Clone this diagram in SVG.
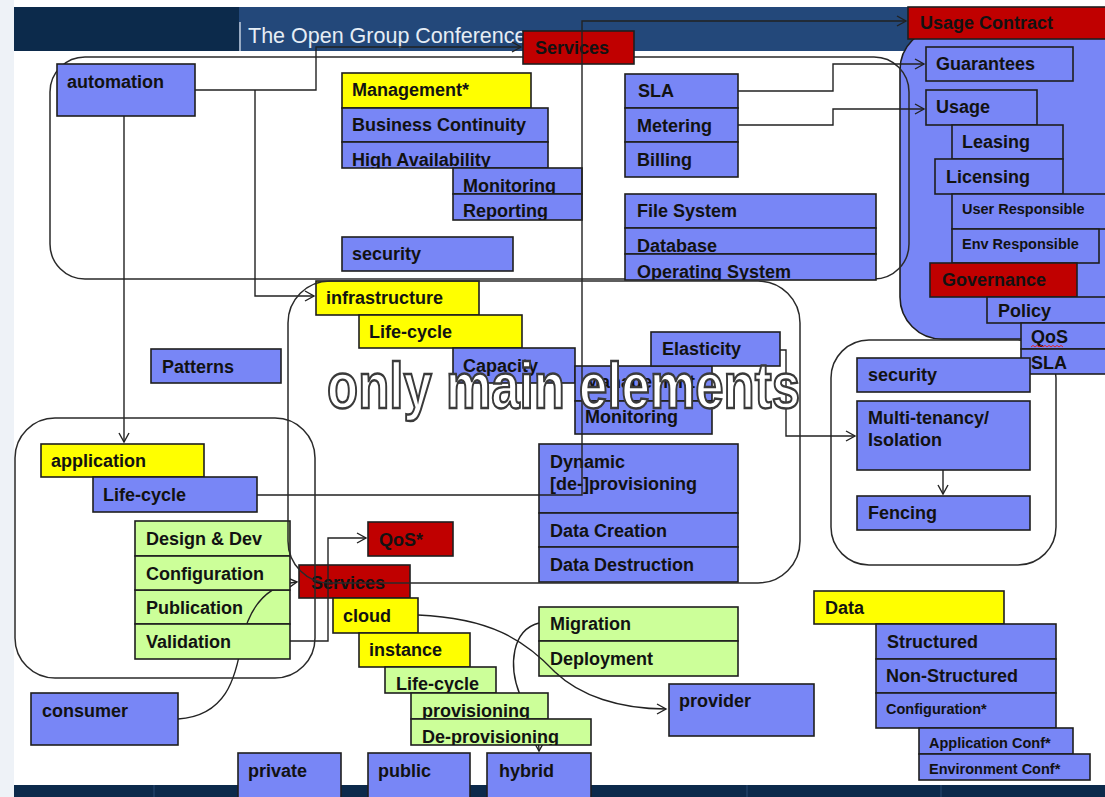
<svg xmlns="http://www.w3.org/2000/svg" width="1105" height="797" viewBox="0 0 1105 797">
  <defs>
    <style>
      .b { fill: #7886f6; stroke: #1e1e1e; stroke-width: 1.6; }
      .y { fill: #ffff00; stroke: #1e1e1e; stroke-width: 1.6; }
      .r { fill: #c00000; stroke: #1e1e1e; stroke-width: 1.6; }
      .g { fill: #ccff99; stroke: #1e1e1e; stroke-width: 1.6; }
      .t { font-family: "Liberation Sans", Arial, sans-serif; font-weight: bold; font-size: 18px; fill: #121212; }
      .s { font-family: "Liberation Sans", Arial, sans-serif; font-weight: bold; font-size: 14.5px; fill: #121212; }
      .box { fill: none; stroke: #2a2a2a; stroke-width: 1.5; }
      .c { fill: none; stroke: #222; stroke-width: 1.4; }
      .overlay { font-family: "Liberation Sans Narrow", "Liberation Sans", Arial, sans-serif; font-weight: bold; font-size: 64px; fill: #ffffff; stroke: #3a3a3a; stroke-width: 2.4; }
    </style>
    <marker id="arr" markerUnits="userSpaceOnUse" markerWidth="12" markerHeight="12" refX="10" refY="6" orient="auto">
      <path d="M1,1 L10,6 L1,11" fill="none" stroke="#222" stroke-width="1.4"/>
    </marker>
    <clipPath id="clip-ha"><rect x="342" y="142" width="206" height="26"/></clipPath>
    <clipPath id="clip-mon"><rect x="453" y="168" width="129" height="26"/></clipPath>
    <clipPath id="clip-rep"><rect x="453" y="194" width="129" height="26"/></clipPath>
    <clipPath id="clip-os"><rect x="625" y="254" width="251" height="26"/></clipPath>
    <clipPath id="clip-lc2"><rect x="385" y="667" width="111" height="26"/></clipPath>
    <clipPath id="clip-prov"><rect x="411" y="693" width="137" height="26"/></clipPath>
    <clipPath id="clip-deprov"><rect x="411" y="719" width="180" height="26"/></clipPath>
  </defs>

  <!-- page background, header and footer bands -->
  <rect x="0" y="0" width="1105" height="797" fill="#ffffff"/>
  <rect x="0" y="0" width="14" height="797" fill="#eef2f7"/>
  <rect x="14" y="7" width="1091" height="44" fill="#23487a"/>
  <rect x="14" y="7" width="225" height="44" fill="#0c2a4b"/>
  <line x1="240" y1="22" x2="240" y2="51" stroke="#e8eef5" stroke-width="1.2"/>
  <text x="248" y="43" font-family="Liberation Sans, Arial, sans-serif" font-size="21.5" fill="#e6edf5">The Open Group Conference</text>
  <rect x="14" y="785" width="1091" height="12" fill="#0c2a4b"/>
  <line x1="154" y1="785" x2="154" y2="797" stroke="#1f4066" stroke-width="1.5"/>
  <line x1="747" y1="785" x2="747" y2="797" stroke="#1f4066" stroke-width="1.5"/>
  <line x1="941" y1="785" x2="941" y2="797" stroke="#1f4066" stroke-width="1.5"/>

  <!-- usage contract backdrop and the grouping frames drawn beneath the boxes -->
  <rect id="usage-frame" x="900" y="28" width="240" height="311" rx="42" class="b"/>
  <rect id="automation-frame" x="50" y="57" width="859" height="222" rx="35" class="box"/>
  <rect id="security-frame" x="831" y="340" width="225" height="225" rx="38" class="box"/>

  <!-- management / services area -->
  <g id="automation"><rect x="57" y="64" width="138" height="52" class="b"/><text x="67" y="88" class="t">automation</text></g>
  <g id="services-top"><rect x="523" y="31" width="111" height="33" class="r"/><text x="535" y="54" class="t">Services</text></g>
  <g id="management"><rect x="342" y="73" width="189" height="35" class="y"/><text x="352" y="96" class="t">Management*</text></g>
  <g id="business-continuity"><rect x="342" y="108" width="206" height="34" class="b"/><text x="352" y="131" class="t">Business Continuity</text></g>
  <g id="high-availability"><rect x="342" y="142" width="206" height="26" class="b"/><text x="352" y="166" class="t" clip-path="url(#clip-ha)">High Availability</text></g>
  <g id="monitoring-top"><rect x="453" y="168" width="129" height="26" class="b"/><text x="463" y="192" class="t" clip-path="url(#clip-mon)">Monitoring</text></g>
  <g id="reporting"><rect x="453" y="194" width="129" height="26" class="b"/><text x="463" y="217" class="t" clip-path="url(#clip-rep)">Reporting</text></g>
  <g id="security-top"><rect x="342" y="237" width="171" height="34" class="b"/><text x="352" y="260" class="t">security</text></g>
  <g id="sla-top"><rect x="625" y="74" width="113" height="34" class="b"/><text x="638" y="97" class="t">SLA</text></g>
  <g id="metering"><rect x="625" y="108" width="113" height="34" class="b"/><text x="637" y="132" class="t">Metering</text></g>
  <g id="billing"><rect x="625" y="142" width="113" height="35" class="b"/><text x="637" y="166" class="t">Billing</text></g>
  <g id="file-system"><rect x="625" y="194" width="251" height="34" class="b"/><text x="637" y="217" class="t">File System</text></g>
  <g id="database"><rect x="625" y="228" width="251" height="26" class="b"/><text x="637" y="252" class="t">Database</text></g>
  <g id="operating-system"><rect x="625" y="254" width="251" height="26" class="b"/><text x="637" y="278" class="t" clip-path="url(#clip-os)">Operating System</text></g>

  <!-- usage contract -->
  <g id="usage-contract"><rect x="908" y="7" width="200" height="32" class="r"/><text x="920" y="29" class="t">Usage Contract</text></g>
  <g id="guarantees"><rect x="926" y="47" width="147" height="34" class="b"/><text x="936" y="70" class="t">Guarantees</text></g>
  <g id="usage"><rect x="926" y="90" width="111" height="35" class="b"/><text x="936" y="113" class="t">Usage</text></g>
  <g id="leasing"><rect x="952" y="125" width="111" height="34" class="b"/><text x="962" y="148" class="t">Leasing</text></g>
  <g id="licensing"><rect x="935" y="159" width="128" height="35" class="b"/><text x="946" y="183" class="t">Licensing</text></g>
  <g id="user-responsible"><rect x="952" y="194" width="160" height="35" class="b"/><text x="962" y="214" class="s">User Responsible</text></g>
  <g id="env-responsible"><rect x="952" y="229" width="147" height="34" class="b"/><text x="962" y="249" class="s">Env Responsible</text></g>
  <g id="governance"><rect x="930" y="263" width="147" height="34" class="r"/><text x="942" y="286" class="t">Governance</text></g>
  <g id="policy"><rect x="987" y="297" width="125" height="26" class="b"/><text x="998" y="317" class="t">Policy</text></g>
  <g id="qos-gov"><rect x="1021" y="323" width="90" height="26" class="b"/><text x="1031" y="343" class="t">QoS</text>
    <path d="M1031 347 l2 -1.6 l2 1.6 l2 -1.6 l2 1.6 l2 -1.6 l2 1.6 l2 -1.6 l2 1.6 l2 -1.6 l2 1.6 l2 -1.6 l2 1.6 l2 -1.6 l2 1.6 l2 -1.6 l2 1.6" fill="none" stroke="#e02424" stroke-width="1"/></g>
  <g id="sla-gov"><rect x="1021" y="349" width="90" height="25" class="b"/><text x="1031" y="369" class="t">SLA</text></g>

  <!-- infrastructure -->
  <g id="patterns"><rect x="151" y="349" width="130" height="34" class="b"/><text x="162" y="373" class="t">Patterns</text></g>
  <g id="infrastructure"><rect x="316" y="281" width="163" height="34" class="y"/><text x="326" y="304" class="t">infrastructure</text></g>
  <g id="infra-life-cycle"><rect x="359" y="315" width="163" height="33" class="y"/><text x="369" y="338" class="t">Life-cycle</text></g>
  <g id="capacity"><rect x="453" y="348" width="122" height="35" class="b"/><text x="463" y="372" class="t">Capacity</text></g>
  <g id="infra-management"><rect x="575" y="366" width="137" height="35" class="b"/><text x="585" y="388" class="t">Management</text></g>
  <g id="infra-monitoring"><rect x="575" y="401" width="137" height="33" class="b"/><text x="585" y="423" class="t">Monitoring</text></g>
  <g id="elasticity"><rect x="651" y="332" width="129" height="34" class="b"/><text x="662" y="355" class="t">Elasticity</text></g>
  <g id="dynamic-provisioning"><rect x="539" y="444" width="199" height="69" class="b"/><text x="550" y="468" class="t">Dynamic</text><text x="550" y="490" class="t">[de-]provisioning</text></g>
  <g id="data-creation"><rect x="539" y="513" width="199" height="34" class="b"/><text x="550" y="537" class="t">Data Creation</text></g>
  <g id="data-destruction"><rect x="539" y="547" width="199" height="35" class="b"/><text x="550" y="571" class="t">Data Destruction</text></g>

  <!-- security -->
  <g id="security-right"><rect x="857" y="358" width="173" height="34" class="b"/><text x="868" y="381" class="t">security</text></g>
  <g id="multi-tenancy"><rect x="857" y="401" width="173" height="69" class="b"/><text x="868" y="424" class="t">Multi-tenancy/</text><text x="868" y="446" class="t">Isolation</text></g>
  <g id="fencing"><rect x="857" y="496" width="173" height="34" class="b"/><text x="868" y="519" class="t">Fencing</text></g>

  <!-- data -->
  <g id="data"><rect x="814" y="591" width="190" height="33" class="y"/><text x="825" y="614" class="t">Data</text></g>
  <g id="structured"><rect x="876" y="624" width="180" height="35" class="b"/><text x="887" y="648" class="t">Structured</text></g>
  <g id="non-structured"><rect x="876" y="659" width="180" height="34" class="b"/><text x="886" y="682" class="t">Non-Structured</text></g>
  <g id="data-configuration"><rect x="876" y="693" width="180" height="35" class="b"/><text x="886" y="714" class="s">Configuration*</text></g>
  <g id="application-conf"><rect x="919" y="728" width="154" height="26" class="b"/><text x="929" y="748" class="s">Application Conf*</text></g>
  <g id="environment-conf"><rect x="919" y="754" width="171" height="26" class="b"/><text x="929" y="774" class="s">Environment Conf*</text></g>

  <!-- application -->
  <g id="application"><rect x="41" y="444" width="163" height="33" class="y"/><text x="51" y="467" class="t">application</text></g>
  <g id="app-life-cycle"><rect x="93" y="477" width="164" height="35" class="b"/><text x="103" y="501" class="t">Life-cycle</text></g>
  <g id="design-dev"><rect x="135" y="521" width="155" height="35" class="g"/><text x="146" y="545" class="t">Design &amp; Dev</text></g>
  <g id="publication"><rect x="135" y="590" width="155" height="34" class="g"/><text x="146" y="614" class="t">Publication</text></g>
  <g id="consumer"><rect x="31" y="693" width="147" height="52" class="b"/><text x="42" y="717" class="t">consumer</text></g>

  <!-- cloud -->
  <g id="qos-services"><rect x="368" y="522" width="85" height="34" class="r"/><text x="379" y="546" class="t">QoS*</text></g>
  <g id="services-cloud"><rect x="299" y="565" width="111" height="33" class="r"/><text x="311" y="589" class="t">Services</text></g>
  <g id="cloud"><rect x="333" y="598" width="85" height="35" class="y"/><text x="343" y="622" class="t">cloud</text></g>
  <g id="instance"><rect x="359" y="633" width="111" height="34" class="y"/><text x="369" y="656" class="t">instance</text></g>
  <g id="instance-life-cycle"><rect x="385" y="667" width="111" height="26" class="g"/><text x="396" y="690" class="t" clip-path="url(#clip-lc2)">Life-cycle</text></g>
  <g id="private"><rect x="238" y="753" width="103" height="50" class="b"/><text x="248" y="777" class="t">private</text></g>
  <g id="public"><rect x="368" y="753" width="102" height="50" class="b"/><text x="378" y="777" class="t">public</text></g>
  <g id="hybrid"><rect x="487" y="753" width="104" height="50" class="b"/><text x="499" y="777" class="t">hybrid</text></g>
  <g id="migration"><rect x="539" y="607" width="199" height="34" class="g"/><text x="550" y="630" class="t">Migration</text></g>
  <g id="deployment"><rect x="539" y="641" width="199" height="35" class="g"/><text x="550" y="665" class="t">Deployment</text></g>
  <g id="provider"><rect x="669" y="684" width="145" height="52" class="b"/><text x="679" y="707" class="t">provider</text></g>

  <!-- connectors -->
  <g id="connectors">
    <path class="c" d="M195 90 H316 V47 H521" marker-end="url(#arr)"/>
    <path class="c" d="M255 90 V296 H314" marker-end="url(#arr)"/>
    <path class="c" d="M124 116 V442" marker-end="url(#arr)"/>
    <path class="c" d="M738 91 H833 V64 H924" marker-end="url(#arr)"/>
    <path class="c" d="M738 125 H833 V109 H924" marker-end="url(#arr)"/>
    <path class="c" d="M257 495 H582 V21 H906" marker-end="url(#arr)"/>
    <path class="c" d="M780 350 H786 V436 H855" marker-end="url(#arr)"/>
    <path class="c" d="M943 470 V494" marker-end="url(#arr)"/>
    <path class="c" d="M290 641 H328 V538 H366" marker-end="url(#arr)"/>
    <path class="c" d="M178 719 C225 716 236 680 242 640 C250 605 268 585 297 582" marker-end="url(#arr)"/>
    <path class="c" d="M418 615 C490 618 525 640 555 672 C580 696 620 709 666 709" marker-end="url(#arr)"/>
    <path class="c" d="M539 623 C512 630 508 665 520 695 C530 720 539 735 539 751" marker-end="url(#arr)"/>
  </g>

  <!-- boxes lying over the curves -->
  <g id="configuration"><rect x="135" y="556" width="155" height="34" class="g"/><text x="146" y="580" class="t">Configuration</text></g>
  <g id="validation"><rect x="135" y="624" width="155" height="35" class="g"/><text x="146" y="648" class="t">Validation</text></g>
  <g id="provisioning"><rect x="411" y="693" width="137" height="26" class="g"/><text x="422" y="717" class="t" clip-path="url(#clip-prov)">provisioning</text></g>
  <g id="de-provisioning"><rect x="411" y="719" width="180" height="26" class="g"/><text x="422" y="743" class="t" clip-path="url(#clip-deprov)">De-provisioning</text></g>

  <!-- grouping frames drawn over the boxes -->
  <rect id="infrastructure-frame" x="288" y="281" width="512" height="302" rx="42" class="box"/>
  <rect id="application-frame" x="15" y="418" width="300" height="260" rx="40" class="box"/>

  <!-- watermark -->
  <text x="327" y="408" class="overlay" textLength="473" lengthAdjust="spacingAndGlyphs">only main elements</text>
</svg>
